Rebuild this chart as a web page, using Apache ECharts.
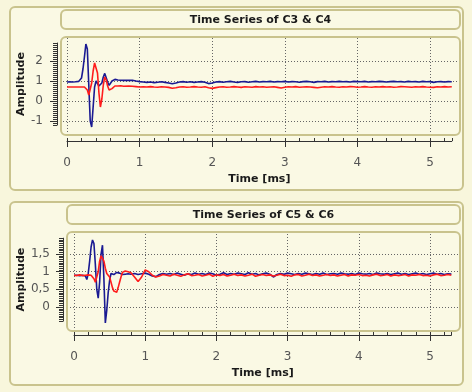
<!DOCTYPE html>
<html><head><meta charset="utf-8">
<script src="https://cdn.jsdelivr.net/npm/echarts@6/dist/echarts.min.js"></script>
<style>html,body{margin:0;padding:0;background:#f8f6dc}#c{width:472px;height:392px}</style>
</head><body><div id="c"></div><script>
// ---- data ----
const TIME = [
 0,0.02,0.04,0.06,0.08,0.1,0.12,0.14,0.16,0.18,
 0.2,0.22,0.24,0.26,0.28,0.3,0.32,0.34,0.36,0.38,
 0.4,0.42,0.44,0.46,0.48,0.5,0.52,0.54,0.56,0.58,
 0.6,0.62,0.64,0.66,0.68,0.7,0.72,0.74,0.76,0.78,
 0.8,
 0.85,0.9,0.95,1.0,1.05,1.1,1.15,1.2,1.25,1.3,
 1.35,1.4,1.45,1.5,1.55,1.6,1.65,1.7,1.75,1.8,
 1.85,1.9,1.95,2.0,2.05,2.1,2.15,2.2,2.25,2.3,
 2.35,2.4,2.45,2.5,2.55,2.6,2.65,2.7,2.75,2.8,
 2.85,2.9,2.95,3.0,3.05,3.1,3.15,3.2,3.25,3.3,
 3.35,3.4,3.45,3.5,3.55,3.6,3.65,3.7,3.75,3.8,
 3.85,3.9,3.95,4.0,4.05,4.1,4.15,4.2,4.25,4.3,
 4.35,4.4,4.45,4.5,4.55,4.6,4.65,4.7,4.75,4.8,
 4.85,4.9,4.95,5.0,5.05,5.1,5.15,5.2,5.25,5.3
];
const C3 = [
 0.95,0.93,0.96,0.94,0.95,0.92,0.96,0.95,0.98,1.0,
 1.15,1.6,2.2,2.85,2.6,0.8,-1.0,-1.3,-0.3,0.7,
 1.0,0.95,0.75,0.7,0.9,1.2,1.38,1.3,0.95,0.78,
 0.85,1.0,1.05,1.08,1.07,1.05,1.06,1.04,1.05,1.03,
 1.02,
 1.03,1.04,1.0,0.97,0.95,0.93,0.95,0.92,0.94,0.96,
 0.93,0.9,0.86,0.9,0.95,0.97,0.94,0.96,0.93,0.95,
 0.97,0.94,0.87,0.9,0.95,0.97,0.94,0.96,0.98,0.95,
 0.93,0.96,0.97,0.94,0.96,0.98,0.95,0.97,0.96,0.98,
 0.95,0.97,0.96,0.98,0.95,0.97,0.96,0.94,0.97,0.98,
 0.96,0.93,0.97,0.96,0.98,0.95,0.97,0.96,0.98,0.96,
 0.97,0.95,0.98,0.97,0.96,0.98,0.95,0.97,0.96,0.98,
 0.97,0.95,0.97,0.98,0.96,0.97,0.95,0.98,0.96,0.97,
 0.95,0.98,0.96,0.97,0.93,0.96,0.97,0.95,0.97,0.96
];
const C4 = [
 0.7,0.72,0.7,0.71,0.7,0.72,0.7,0.71,0.7,0.72,
 0.7,0.71,0.7,0.68,0.55,0.3,0.4,0.9,1.5,1.9,
 2.0,1.4,0.4,-0.3,0.1,0.8,1.2,1.05,0.75,0.55,
 0.55,0.62,0.7,0.75,0.76,0.75,0.74,0.76,0.75,0.74,
 0.75,
 0.75,0.74,0.72,0.7,0.71,0.7,0.72,0.7,0.69,0.71,
 0.7,0.68,0.64,0.66,0.7,0.71,0.69,0.7,0.72,0.7,
 0.69,0.71,0.66,0.63,0.67,0.7,0.71,0.69,0.7,0.72,
 0.7,0.68,0.71,0.7,0.69,0.72,0.7,0.71,0.69,0.7,
 0.71,0.68,0.65,0.69,0.71,0.7,0.72,0.69,0.7,0.71,
 0.7,0.68,0.66,0.69,0.71,0.7,0.72,0.7,0.69,0.71,
 0.7,0.72,0.71,0.69,0.7,0.72,0.7,0.69,0.71,0.7,
 0.72,0.7,0.71,0.69,0.7,0.72,0.71,0.7,0.69,0.71,
 0.7,0.72,0.7,0.69,0.68,0.71,0.7,0.72,0.7,0.71
];
const C5 = [
 0.9,0.92,0.9,0.91,0.89,0.92,0.9,0.91,0.88,0.78,
 0.95,1.3,1.7,1.9,1.8,1.2,0.5,0.25,0.7,1.5,
 1.75,0.8,-0.45,-0.1,0.4,0.75,0.95,1.0,0.92,0.95,
 0.98,0.93,0.96,0.95,0.92,0.95,0.93,0.96,0.94,0.95,
 0.93,
 0.95,0.92,0.94,0.96,0.93,0.88,0.86,0.92,0.95,0.93,
 0.95,0.92,0.96,0.93,0.9,0.94,0.92,0.96,0.93,0.95,
 0.92,0.96,0.94,0.9,0.93,0.97,0.92,0.95,0.93,0.96,
 0.94,0.92,0.97,0.93,0.95,0.91,0.94,0.96,0.93,0.85,
 0.92,0.95,0.93,0.96,0.94,0.92,0.95,0.93,0.96,0.94,
 0.92,0.95,0.93,0.96,0.92,0.94,0.95,0.93,0.96,0.94,
 0.93,0.95,0.92,0.96,0.94,0.93,0.95,0.92,0.96,0.94,
 0.93,0.95,0.92,0.94,0.96,0.93,0.95,0.92,0.94,0.96,
 0.93,0.95,0.92,0.94,0.96,0.93,0.95,0.92,0.94,0.93
];
const C6 = [
 0.9,0.91,0.89,0.9,0.91,0.9,0.89,0.91,0.9,0.9,
 0.91,0.89,0.9,0.88,0.8,0.7,0.75,1.0,1.3,1.45,
 1.5,1.3,1.1,0.95,0.9,0.85,0.7,0.55,0.45,0.4,
 0.42,0.55,0.7,0.85,0.98,1.0,1.02,0.98,1.0,1.02,
 0.97,
 0.85,0.72,0.85,1.05,1.0,0.9,0.85,0.88,0.92,0.9,
 0.88,0.93,0.9,0.87,0.91,0.94,0.89,0.9,0.92,0.88,
 0.9,0.93,0.87,0.91,0.89,0.92,0.88,0.9,0.93,0.89,
 0.91,0.88,0.9,0.93,0.87,0.9,0.92,0.89,0.91,0.88,
 0.9,0.93,0.89,0.9,0.87,0.91,0.92,0.88,0.9,0.93,
 0.89,0.91,0.88,0.9,0.92,0.89,0.91,0.88,0.9,0.92,
 0.88,0.91,0.9,0.92,0.89,0.9,0.88,0.91,0.93,0.89,
 0.9,0.92,0.88,0.91,0.89,0.9,0.92,0.88,0.91,0.9,
 0.92,0.89,0.9,0.88,0.91,0.93,0.89,0.9,0.92,0.9
];
const TITLES = ['Time Series of C3 & C4', 'Time Series of C5 & C6'];
const X_NAME = 'Time [ms]';
const Y_NAME = 'Amplitude';
const X_TICK_MAX = 5;

// ---- layout ----
const PANELS = [
 {title:TITLES[0], s:[C3,C4], x0:67, ppm:72.6, y0:101, ppu:20, data:[-1.7,3.2], grid:[-1,2,1], minor:[-1.2,2.9,0.1],
  vSpan:[38,133], hSpan:[63,458], axisY:141, axisX:57, labM:14, nameGapY:30,
  outer:[10,7,453,183], tbox:[61,10,399,19], pbox:[61,37,399,98]},
 {title:TITLES[1], s:[C5,C6], x0:74, ppm:71.2, y0:307, ppu:35.3, data:[-0.6,2.0], grid:[0,1.5,0.5], minor:[-0.4,1.95,0.05],
  vSpan:[234,329], hSpan:[70,458], axisY:335, axisX:63, labM:13, nameGapY:36,
  outer:[10,202,453,183], tbox:[67,205,393,19], pbox:[67,232,393,99]}
];
const BORDER = '#c9c38d', FILL = '#faf9e4', AXIS = '#333', LAB = '#555';
const FONT = 'DejaVu Sans';
const COLORS = ['#1a1a92', '#ff1c1c'];
const dotted = {show:true, lineStyle:{color:'#666', type:[1,2], width:1}};
const tMax = TIME[TIME.length-1];

const grids=[], xAxes=[], yAxes=[], series=[], graphics=[];
function rect(b, z){ return {type:'rect', z:z, shape:{x:b[0], y:b[1], width:b[2], height:b[3], r:5},
  style:{fill:FILL, stroke:BORDER, lineWidth:2}}; }
function add(grid, xa, ya){
  grids.push(grid); const gi = grids.length-1;
  xAxes.push(Object.assign({type:'value', gridIndex:gi}, xa));
  yAxes.push(Object.assign({type:'value', gridIndex:gi}, ya));
  return [xAxes.length-1, yAxes.length-1];
}
const off = {axisLine:{show:false}, axisTick:{show:false}, axisLabel:{show:false}, splitLine:{show:false}};

PANELS.forEach(p => {
  graphics.push(rect(p.outer, -30), rect(p.tbox, -20), rect(p.pbox, -20));
  graphics.push({type:'text', z:-10, x:p.tbox[0]+p.tbox[2]/2, y:p.tbox[1]+p.tbox[3]/2+1,
    style:{text:p.title, align:'center', verticalAlign:'middle', font:'bold 11px "DejaVu Sans"', fill:'#1a1a1a'}});
  add({left:p.x0, top:p.vSpan[0], width:X_TICK_MAX*p.ppm, height:p.vSpan[1]-p.vSpan[0]},
      Object.assign({}, off, {min:0, max:X_TICK_MAX, interval:1, splitLine:dotted}),
      {show:false, min:0, max:1});
  add({left:p.hSpan[0], width:p.hSpan[1]-p.hSpan[0], top:p.y0-p.grid[1]*p.ppu, height:(p.grid[1]-p.grid[0])*p.ppu},
      {show:false, min:0, max:1},
      Object.assign({}, off, {min:p.grid[0], max:p.grid[1], interval:p.grid[2], splitLine:dotted}));
  add({left:p.x0, width:X_TICK_MAX*p.ppm, top:p.axisY-10, height:10},
      Object.assign({}, off, {position:'bottom', min:0, max:X_TICK_MAX, interval:1,
        axisTick:{show:true, inside:false, length:6, lineStyle:{color:AXIS}},
        axisLabel:{show:true, margin:16, color:LAB, fontFamily:FONT, fontSize:12}}),
      {show:false, min:0, max:1});
  add({left:p.x0, width:tMax*p.ppm, top:p.axisY-10, height:10},
      Object.assign({}, off, {position:'bottom', min:0, max:tMax, interval:0.2,
        axisLine:{show:true, lineStyle:{color:AXIS, width:1}},
        axisTick:{show:true, inside:true, length:3, lineStyle:{color:AXIS}},
        name:X_NAME, nameLocation:'middle', nameGap:33,
        nameTextStyle:{fontFamily:FONT, fontWeight:'bold', fontSize:11, color:'#1a1a1a'}}),
      {show:false, min:0, max:1});
  add({left:p.axisX, width:10, top:p.y0-p.grid[1]*p.ppu, height:(p.grid[1]-p.grid[0])*p.ppu},
      {show:false, min:0, max:1},
      Object.assign({}, off, {position:'left', min:p.grid[0], max:p.grid[1], interval:p.grid[2],
        axisTick:{show:true, inside:false, length:7, lineStyle:{color:AXIS}},
        axisLabel:{show:true, margin:p.labM, color:LAB, fontFamily:FONT, fontSize:12,
          formatter: v => String(v).replace('.', ',')}}));
  add({left:p.axisX, width:10, top:p.y0-p.minor[1]*p.ppu, height:(p.minor[1]-p.minor[0])*p.ppu},
      {show:false, min:0, max:1},
      Object.assign({}, off, {position:'left', min:p.minor[0], max:p.minor[1], interval:p.minor[2],
        axisLine:{show:true, lineStyle:{color:AXIS, width:1}},
        axisTick:{show:true, inside:false, length:4, lineStyle:{color:AXIS}},
        name:Y_NAME, nameLocation:'middle', nameGap:p.nameGapY, nameRotate:90,
        nameTextStyle:{fontFamily:FONT, fontWeight:'bold', fontSize:11, color:'#1a1a1a'}}));
  const [xi, yi] = add({left:p.x0, width:tMax*p.ppm, top:p.y0-p.data[1]*p.ppu, height:(p.data[1]-p.data[0])*p.ppu},
      {show:false, min:0, max:tMax},
      {show:false, min:p.data[0], max:p.data[1]});
  p.s.forEach((arr, k) => {
    series.push({type:'line', xAxisIndex:xi, yAxisIndex:yi, showSymbol:false, silent:true, z:5+k,
      data: TIME.map((t, i) => [t, arr[i]]),
      lineStyle:{color:COLORS[k], width:1.6}});
  });
});

const chart = echarts.init(document.getElementById('c'), null, {renderer:'canvas'});
chart.setOption({
  animation:false,
  backgroundColor:'#f8f6dc',
  grid:grids, xAxis:xAxes, yAxis:yAxes, series:series,
  graphic:{elements:graphics}
});
</script></body></html>
